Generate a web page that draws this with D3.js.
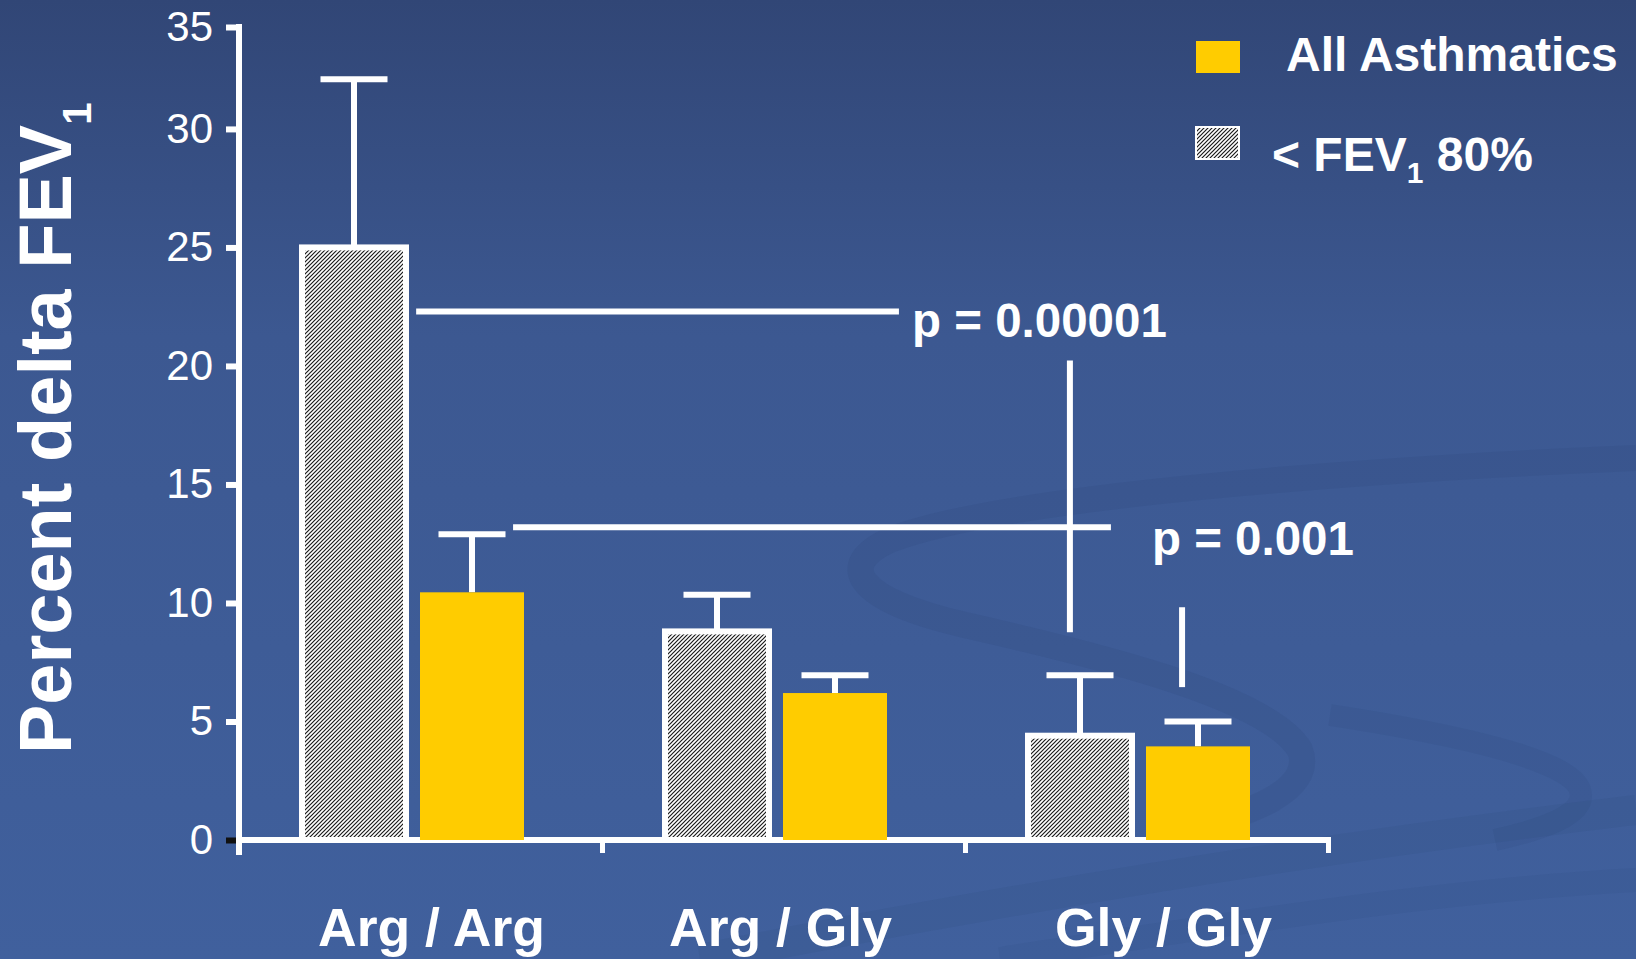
<!DOCTYPE html>
<html><head><meta charset="utf-8">
<script src="https://cdn.jsdelivr.net/npm/d3@7"></script>
<style>html,body{margin:0;padding:0;background:#3d5a94;} svg{display:block}</style>
</head><body><svg id="chart" width="1636" height="959"></svg>
<script>
// ---- data ----
const categories = ["Arg / Arg", "Arg / Gly", "Gly / Gly"];
const seriesNames = ["< FEV1 80%", "All Asthmatics"];
const lowFev = [25.0, 8.8, 4.4];          // hatched bars
const lowFevErr = [32.1, 10.35, 6.95];    // top of error bars
const allAsth = [10.45, 6.2, 3.95];       // yellow bars
const allAsthErr = [12.9, 6.95, 5.0];
const yTickValues = [0, 5, 10, 15, 20, 25, 30, 34.3];
const yTickLabels = ["0", "5", "10", "15", "20", "25", "30", "35"];
// significance annotations, in (category index, value) units
const pHLines = [{x0: 0.488, x1: 1.818, y: 22.3}, {x0: 0.755, x1: 2.402, y: 13.2}];
const pVLines = [{x: 2.289, y0: 8.77, y1: 20.23}, {x: 2.598, y0: 6.45, y1: 9.82}];
const pLabels = [{text: "p = 0.00001", x: 1.854, y: 21.22}, {text: "p = 0.001", x: 2.515, y: 12.03}];

// layout
const W = 1636, H = 959;
const FONT = "Arial, 'Liberation Sans', sans-serif";
const labelShift = [11, -3, 17];   // category label nudges (px)

const svg = d3.select("#chart");
const defs = svg.append("defs");

// background
const bg = defs.append("linearGradient").attr("id", "bg").attr("x1", 0).attr("y1", 0).attr("x2", 0).attr("y2", 1);
bg.append("stop").attr("offset", "0%").attr("stop-color", "#314676");
bg.append("stop").attr("offset", "35%").attr("stop-color", "#3c5891");
bg.append("stop").attr("offset", "100%").attr("stop-color", "#40609d");
svg.append("rect").attr("width", W).attr("height", H).attr("fill", "url(#bg)");

// decorative swooshes of the slide template
const deco = svg.append("g").attr("fill", "none").attr("stroke", "#2c4677");
deco.append("path").attr("stroke-width", 26).attr("stroke-opacity", 0.16)
  .attr("d", "M1636,458 C1350,470 1000,497 890,540 C835,565 855,600 965,625 C1120,660 1270,700 1300,750 C1315,790 1250,815 1180,830");
deco.append("path").attr("stroke-width", 22).attr("stroke-opacity", 0.14)
  .attr("d", "M1330,715 C1460,735 1570,760 1580,790 C1588,815 1540,830 1495,840");
deco.append("path").attr("stroke-width", 30).attr("stroke-opacity", 0.12)
  .attr("d", "M700,959 C1000,900 1300,850 1636,810");
deco.append("path").attr("stroke-width", 24).attr("stroke-opacity", 0.1)
  .attr("d", "M1000,959 C1250,920 1450,890 1636,880");

// hatch pattern
const pat = defs.append("pattern").attr("id", "hatch").attr("patternUnits", "userSpaceOnUse")
  .attr("width", 4).attr("height", 4);
pat.append("rect").attr("width", 4).attr("height", 4).attr("fill", "#ffffff");
pat.append("path").attr("d", "M-1,1 l2,-2 M0,4 l4,-4 M3,5 l2,-2")
  .attr("stroke", "#1a1a1a").attr("stroke-width", 1.2);

// scales
const y = d3.scaleLinear().domain([0, 34.3]).range([840, 27]);
const x0 = d3.scaleBand().domain(categories).range([239, 1328]).padding(0);
const x1 = d3.scaleBand().domain(seriesNames).range([63, 285]).paddingInner(0.1186).paddingOuter(0);
const xc = d3.scaleLinear().domain([0, 3]).range([239, 1328]);

// y axis
const gy = svg.append("g").attr("transform", "translate(239,0)")
  .call(d3.axisLeft(y).tickValues(yTickValues).tickFormat((d, i) => yTickLabels[i]).tickSize(13).tickPadding(13));
gy.select(".domain").remove();
gy.selectAll(".tick line").attr("stroke", d => d === 0 ? "#111111" : "#ffffff").attr("stroke-width", 6);
gy.selectAll(".tick text").attr("fill", "#ffffff").attr("font-family", FONT).attr("font-size", 42);
svg.append("line").attr("x1", 239).attr("x2", 239).attr("y1", 24).attr("y2", 855)
  .attr("stroke", "#ffffff").attr("stroke-width", 6);

// x axis
const gx = svg.append("g").attr("transform", "translate(0,840)")
  .call(d3.axisBottom(xc).tickValues([0, 1, 2, 3]).tickSize(13).tickFormat(""));
gx.select(".domain").remove();
gx.selectAll(".tick line").attr("stroke", "#ffffff").attr("stroke-width", 5);
svg.append("line").attr("x1", 236).attr("x2", 1331).attr("y1", 840).attr("y2", 840)
  .attr("stroke", "#ffffff").attr("stroke-width", 6);

// category labels
svg.append("g").selectAll("text").data(categories).join("text")
  .attr("x", (d, i) => x0(d) + x0.bandwidth() / 2 + labelShift[i]).attr("y", 946)
  .attr("text-anchor", "middle").attr("fill", "#ffffff")
  .attr("font-family", FONT).attr("font-weight", "bold").attr("font-size", 53.5)
  .text(d => d);

// bar data
const rows = categories.map((c, i) => ({
  cat: c,
  vals: [
    {s: seriesNames[0], v: lowFev[i], e: lowFevErr[i]},
    {s: seriesNames[1], v: allAsth[i], e: allAsthErr[i]}
  ]
}));
const groups = svg.append("g").selectAll("g").data(rows).join("g")
  .attr("transform", d => `translate(${x0(d.cat)},0)`);

// error bars (under bars)
const eb = groups.selectAll("g.err").data(d => d.vals).join("g").attr("class", "err");
eb.append("line")
  .attr("x1", d => x1(d.s) + x1.bandwidth() / 2).attr("x2", d => x1(d.s) + x1.bandwidth() / 2)
  .attr("y1", d => y(d.e)).attr("y2", d => y(d.v))
  .attr("stroke", "#ffffff").attr("stroke-width", 6);
eb.append("line")
  .attr("x1", d => x1(d.s) + x1.bandwidth() / 2 - 33.5).attr("x2", d => x1(d.s) + x1.bandwidth() / 2 + 33.5)
  .attr("y1", d => y(d.e)).attr("y2", d => y(d.e))
  .attr("stroke", "#ffffff").attr("stroke-width", 6);

// bars
groups.selectAll("rect.bar").data(d => d.vals).join("rect").attr("class", "bar")
  .attr("x", d => x1(d.s)).attr("width", x1.bandwidth())
  .attr("y", d => y(d.v)).attr("height", d => y(0) - y(d.v))
  .attr("fill", d => d.s === seriesNames[0] ? "url(#hatch)" : "#ffcc00")
  .attr("stroke", d => d.s === seriesNames[0] ? "#ffffff" : "none")
  .attr("stroke-width", 6);

// significance annotations
const ann = svg.append("g");
ann.selectAll("line.h").data(pHLines).join("line").attr("class", "h")
  .attr("x1", d => xc(d.x0)).attr("x2", d => xc(d.x1)).attr("y1", d => y(d.y)).attr("y2", d => y(d.y))
  .attr("stroke", "#ffffff").attr("stroke-width", 6);
ann.selectAll("line.v").data(pVLines).join("line").attr("class", "v")
  .attr("x1", d => xc(d.x)).attr("x2", d => xc(d.x)).attr("y1", d => y(d.y0)).attr("y2", d => y(d.y1))
  .attr("stroke", "#ffffff").attr("stroke-width", 6);
ann.selectAll("text").data(pLabels).join("text")
  .attr("x", d => xc(d.x)).attr("y", d => y(d.y))
  .attr("fill", "#ffffff").attr("font-family", FONT).attr("font-weight", "bold").attr("font-size", 47.5)
  .text(d => d.text);

// y axis title
const title = svg.append("text").attr("transform", "translate(71,754) rotate(-90)")
  .attr("fill", "#ffffff").attr("font-family", FONT).attr("font-weight", "bold").attr("font-size", 74);
title.append("tspan").text("Percent delta FEV");
title.append("tspan").attr("font-size", 40).attr("dy", 20).text("1");

// legend
const leg = svg.append("g").attr("font-family", FONT).attr("font-weight", "bold").attr("fill", "#ffffff");
leg.append("rect").attr("x", 1196).attr("y", 41).attr("width", 44).attr("height", 32).attr("fill", "#ffcc00");
leg.append("text").attr("x", 1286).attr("y", 71).attr("font-size", 48).text("All Asthmatics");
leg.append("rect").attr("x", 1196).attr("y", 127).attr("width", 43).attr("height", 32)
  .attr("fill", "url(#hatch)").attr("stroke", "#ffffff").attr("stroke-width", 2);
const lt = leg.append("text").attr("x", 1272).attr("y", 171).attr("font-size", 48);
lt.append("tspan").text("< FEV");
lt.append("tspan").attr("font-size", 30).attr("dy", 12).text("1");
lt.append("tspan").attr("dy", -12).text(" 80%");
</script>
</body></html>
